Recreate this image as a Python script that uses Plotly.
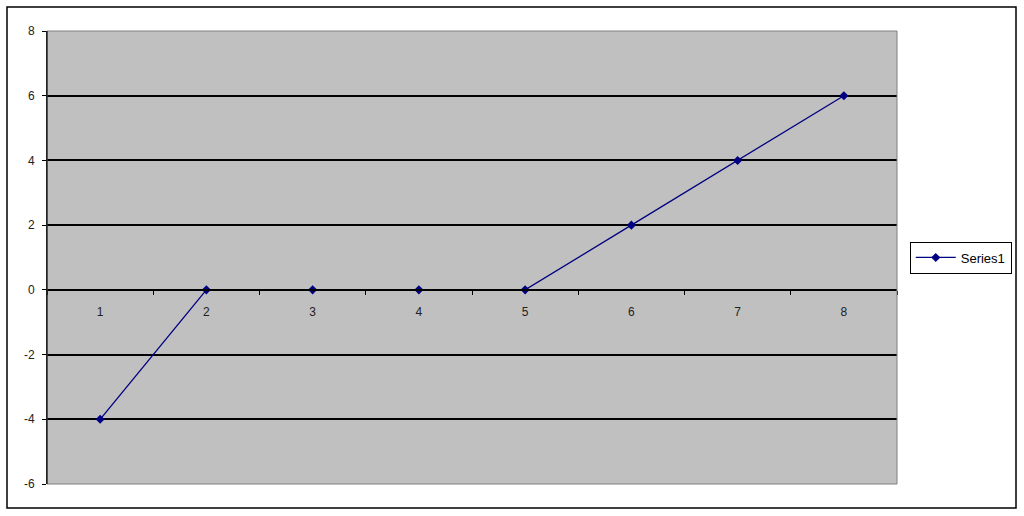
import plotly.graph_objects as go

categories = ["1", "2", "3", "4", "5", "6", "7", "8"]
series1 = [-4, 0, 0, 0, 0, 2, 4, 6]
y_ticks = [-6, -4, -2, 0, 2, 4, 6, 8]
y_tick_labels = ["-6", "-4", "-2", "0", "2", "4", "6", "8"]

FONT = "Liberation Sans, Arial, sans-serif"

fig = go.Figure()
fig.add_trace(go.Scatter(
    x=categories, y=series1, mode="lines+markers", name="Series1",
    xaxis="x2", yaxis="y",
    line=dict(color="#000080", width=1.3),
    marker=dict(symbol="diamond", size=7, color="#000080"),
))

fig.update_layout(
    width=1024, height=516,
    margin=dict(l=47, r=127, t=31, b=32),
    paper_bgcolor="white",
    plot_bgcolor="#C0C0C0",
    font=dict(family=FONT, size=12, color="black"),
    showlegend=True,
    legend=dict(
        x=1.015, y=0.5, xanchor="left", yanchor="middle",
        bordercolor="black", borderwidth=1, bgcolor="white",
        itemwidth=40,
        font=dict(family=FONT, size=13, color="black"),
    ),
    xaxis=dict(visible=False, range=[-0.5, 7.5], showgrid=False),
    xaxis2=dict(
        type="category", categoryorder="array", categoryarray=categories,
        range=[-0.5, 7.5], anchor="free", overlaying="x",
        position=6 / 14, side="bottom",
        showline=True, linecolor="black", linewidth=2,
        ticks="outside", tickson="boundaries", ticklen=4, tickcolor="black",
        showgrid=False, ticklabelstandoff=11,
        tickfont=dict(family=FONT, size=12, color="#222"),
    ),
    yaxis=dict(
        range=[-6, 8], tickvals=y_ticks, ticktext=y_tick_labels,
        showgrid=True, gridcolor="black",
        gridwidth=1.6, zeroline=False, showline=True, linecolor="black",
        linewidth=1, ticks="outside", ticklen=4, tickcolor="black",
        ticklabelstandoff=5,
        tickfont=dict(family=FONT, size=12, color="#222"),
    ),
    shapes=[
        dict(type="rect", xref="paper", yref="paper", x0=0, x1=1, y0=0, y1=1,
             line=dict(color="#808080", width=1), layer="above"),
        dict(type="line", xref="paper", yref="paper", x0=0, x1=0, y0=0, y1=1,
             line=dict(color="black", width=1), layer="above"),
        dict(type="rect", xref="paper", yref="paper",
             x0=(7 - 47) / 850, x1=(1016 - 47) / 850,
             y0=(484 - 508) / 453, y1=(484 - 7) / 453,
             line=dict(color="black", width=1.5)),
    ],
)

fig.write_html("out.html", config={"displayModeBar": False},
               post_script="document.body.style.margin='0';")
